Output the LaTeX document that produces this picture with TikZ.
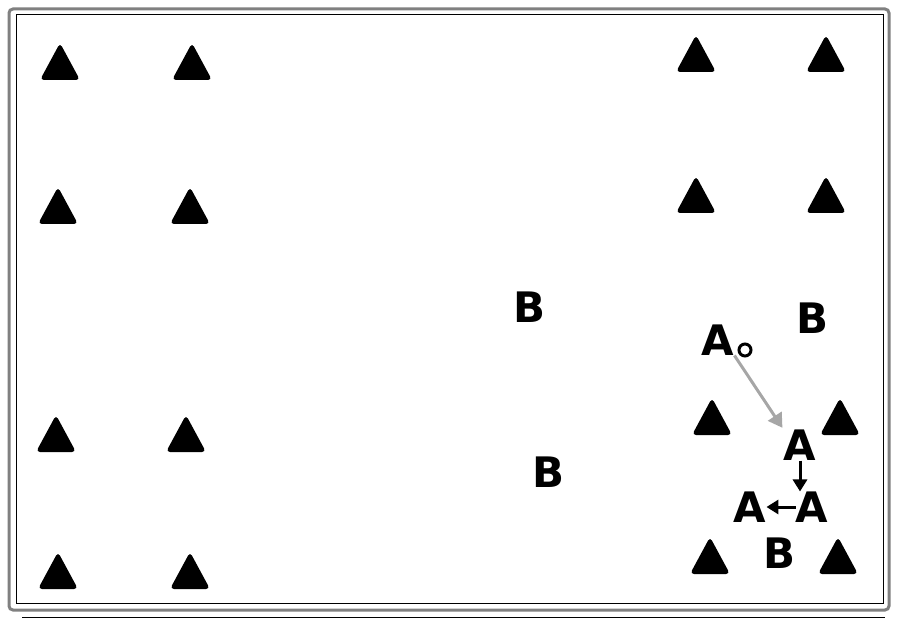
\documentclass[tikz,border=0pt]{standalone}
\usepackage{fontspec}
\setsansfont{DejaVu Sans}
\usetikzlibrary{arrows.meta}
\tikzset{
  letter/.style={font=\sffamily\bfseries\fontsize{42}{42}\selectfont, inner sep=0pt},
  cone/.style={fill=black, rounded corners=4pt}
}
\begin{document}
\begin{tikzpicture}[x=1pt,y=-1pt]
				\useasboundingbox (0,0) rectangle (900,620);
				% field frame
				\draw[line width=3pt, gray, rounded corners=4pt] (9,9) rectangle (889,610);
				\draw[line width=1pt] (16,15) rectangle (883,603);
				\draw[line width=1pt] (22,617) -- (885,617);
				% cones
				\foreach \x/\y in {60/62, 192/62, 58/206, 190/206, 56/434, 186/434, 58/571, 190/571,
				                   696/54, 826/54, 696/195, 826/195, 712/417, 840/417, 710/556, 838/556}
				  \fill[cone] (\x-20,\y+18) -- (\x,\y-19) -- (\x+20,\y+18) -- cycle;
				% players
				\node[letter] (b1) at (530,307) {B};
				\node[letter] (b2) at (549,472) {B};
				\node[letter] (b3) at (812,318) {B};
				\node[letter] (b4) at (779,553) {B};
				\node[letter] (a0) at (718,340) {A};
				\node[draw, circle, line width=3pt, minimum size=12pt, inner sep=0pt] (ball) at (745,350) {};
				\node[letter] (a1) at (800,445) {A};
				\node[letter] (a2) at (812,507) {A};
				\node[letter] (a3) at (750,507) {A};
				% runs and passes
				\draw[gray!70, line width=3pt, -{Triangle[length=14pt,width=16pt]}, shorten >=2pt] (a0.south east) -- (a1.north west);
				\draw[line width=3pt, -{Triangle[length=12pt,width=14pt]}] (a1.south) -- (a2.north -| a1.south);
				\draw[line width=3pt, -{Triangle[length=12pt,width=14pt]}] (a2.west) -- (a3.east);
			\end{tikzpicture}
\end{document}
